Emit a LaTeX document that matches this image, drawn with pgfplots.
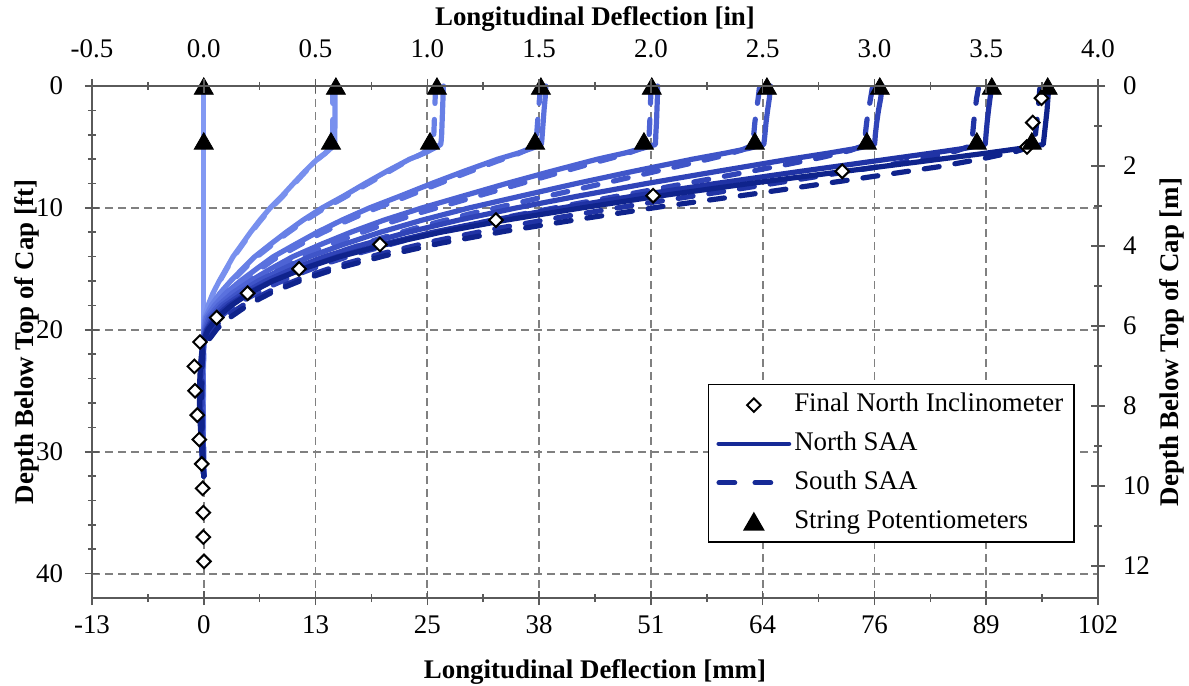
\documentclass[border=0pt]{standalone}
\usepackage{fontspec}
\setmainfont{Liberation Serif}
\usepackage{pgfplots}
\usepackage{pgfplotstable}
\pgfplotsset{compat=1.18}

% load-step colours, light to dark
\definecolor{s0}{RGB}{130,153,243}
\definecolor{s1}{RGB}{120,144,238}
\definecolor{s2}{RGB}{104,128,230}
\definecolor{s3}{RGB}{90,113,222}
\definecolor{s4}{RGB}{77,99,212}
\definecolor{s5}{RGB}{63,85,200}
\definecolor{s6}{RGB}{48,68,184}
\definecolor{s7}{RGB}{32,51,165}
\definecolor{s8}{RGB}{15,35,140}
\definecolor{legnavy}{RGB}{22,42,150}
\definecolor{gridgray}{RGB}{128,128,128}
\definecolor{framegray}{RGB}{90,90,90}

% North SAA profiles: depth [ft], deflection [in] per load step
\pgfplotstableread{
z    n0  n1    n2     n3     n4     n5     n6     n7     n8
0    0   0.587 1.072  1.530  2.030  2.535  3.035  3.525  3.780
1    0   0.587 1.070  1.527  2.029  2.530  3.028  3.517  3.776
2    0   0.587 1.068  1.522  2.027  2.522  3.018  3.510  3.772
3    0   0.587 1.066  1.518  2.025  2.515  3.010  3.504  3.766
4    0   0.586 1.064  1.514  2.022  2.510  3.004  3.499  3.760
4.5  0   0.586 1.062  1.512  2.021  2.507  3.002  3.497  3.757
4.8  0   0.585 1.060  1.510  2.020  2.505  3.000  3.495  3.755
5.1  0   0.569 1.031  1.469  1.965  2.442  2.925  3.408  3.661
5.5  0   0.545 0.988  1.407  1.883  2.335  2.796  3.257  3.503
6    0   0.508 0.921  1.315  1.761  2.187  2.622  3.062  3.293
7    0   0.452 0.818  1.163  1.553  1.921  2.298  2.670  2.865
8    0   0.401 0.721  1.019  1.353  1.666  1.980  2.289  2.441
9    0   0.351 0.628  0.882  1.164  1.425  1.683  1.933  2.046
10   0   0.297 0.529  0.741  0.976  1.187  1.398  1.601  1.690
11   0   0.251 0.444  0.618  0.806  0.977  1.140  1.293  1.352
12   0   0.209 0.368  0.507  0.657  0.789  0.912  1.024  1.059
13   0   0.170 0.297  0.408  0.523  0.624  0.714  0.797  0.815
14   0   0.131 0.228  0.311  0.398  0.473  0.540  0.598  0.608
15   0   0.100 0.173  0.236  0.299  0.353  0.399  0.440  0.443
16   0   0.069 0.120  0.163  0.208  0.243  0.276  0.304  0.308
17   0   0.041 0.072  0.098  0.127  0.153  0.177  0.196  0.203
18   0   0.019 0.034  0.048  0.065  0.080  0.096  0.112  0.124
19   0   0.003 0.007  0.012  0.020  0.028  0.039  0.049  0.060
20   0   0.000 0.001  0.002  0.004  0.008  0.012  0.014  0.019
21   0   0.000 -0.001 -0.001 -0.002 -0.002 -0.002 -0.003 -0.003
22   0   -0.001 -0.003 -0.004 -0.005 -0.006 -0.008 -0.009 -0.010
23   0   -0.002 -0.004 -0.006 -0.008 -0.009 -0.011 -0.013 -0.015
25   0   -0.003 -0.005 -0.008 -0.010 -0.013 -0.015 -0.018 -0.020
27   0   -0.002 -0.005 -0.007 -0.009 -0.011 -0.014 -0.016 -0.018
29   0   -0.002 -0.003 -0.005 -0.006 -0.008 -0.009 -0.011 -0.012
31   0   -0.001 -0.001 -0.002 -0.003 -0.003 -0.004 -0.004 -0.005
32   0   0     0      0      0      0      0      0      0
}\north

% South SAA profiles: depth / deflection pairs per load step
\pgfplotstableread{
z1    s1     z2    s2     z3    s3     z4    s4     z5    s5     z6    s6     z7    s7     z8    s8
0.2   0.577  0.2   1.037  0.2   1.505  0.2   2.000  0.2   2.485  0.2   2.990  0.2   3.465  0.2   3.740
1     0.577  1     1.035  1     1.502  1     1.999  1     2.480  1     2.983  1     3.457  1     3.736
2     0.577  2     1.033  2     1.497  2     1.997  2     2.472  2     2.973  2     3.450  2     3.732
3     0.577  3     1.031  3     1.493  3     1.995  3     2.465  3     2.965  3     3.444  3     3.726
4     0.576  4     1.029  4     1.489  4     1.992  4     2.460  4     2.959  4     3.439  4     3.720
4.5   0.576  4.5   1.027  4.5   1.487  4.5   1.991  4.5   2.457  4.5   2.957  4.5   3.437  4.5   3.717
4.81  0.575  4.82  1.025  4.83  1.485  4.84  1.990  4.85  2.455  4.86  2.955  4.88  3.435  4.89  3.715
5.13  0.562  5.15  1.006  5.18  1.451  5.21  1.944  5.25  2.407  5.28  2.893  5.33  3.366  5.37  3.633
5.55  0.541  5.58  0.974  5.63  1.397  5.68  1.871  5.75  2.315  5.80  2.778  5.88  3.233  5.95  3.487
6.07  0.506  6.11  0.914  6.18  1.310  6.25  1.755  6.35  2.177  6.42  2.613  6.53  3.050  6.63  3.285
7.09  0.452  7.13  0.818  7.21  1.163  7.30  1.553  7.43  1.921  7.51  2.298  7.64  2.670  7.77  2.865
8.1   0.401  8.15  0.721  8.25  1.019  8.35  1.353  8.5   1.666  8.6   1.980  8.75  2.289  8.9   2.441
9.1   0.351  9.15  0.628  9.25  0.882  9.35  1.164  9.5   1.425  9.6   1.683  9.75  1.933  9.9   2.046
10.1  0.297  10.15 0.529  10.25 0.741  10.35 0.976  10.5  1.187  10.6  1.398  10.75 1.601  10.9  1.690
11.1  0.251  11.15 0.444  11.25 0.618  11.35 0.806  11.5  0.977  11.6  1.140  11.75 1.293  11.9  1.352
12.1  0.209  12.15 0.368  12.25 0.507  12.35 0.657  12.5  0.789  12.6  0.912  12.75 1.024  12.9  1.059
13.1  0.170  13.15 0.297  13.25 0.408  13.35 0.523  13.5  0.624  13.6  0.714  13.75 0.797  13.9  0.815
14.1  0.131  14.15 0.228  14.25 0.311  14.35 0.398  14.5  0.473  14.6  0.540  14.75 0.598  14.9  0.608
15.1  0.100  15.15 0.173  15.25 0.236  15.35 0.299  15.5  0.353  15.6  0.399  15.75 0.440  15.9  0.443
16.1  0.069  16.15 0.120  16.25 0.163  16.35 0.208  16.5  0.243  16.6  0.276  16.75 0.304  16.9  0.308
17.1  0.041  17.15 0.072  17.25 0.098  17.35 0.127  17.5  0.153  17.6  0.177  17.75 0.196  17.9  0.203
18.1  0.019  18.15 0.034  18.25 0.048  18.35 0.065  18.5  0.080  18.6  0.096  18.75 0.112  18.9  0.124
19.1  0.003  19.15 0.007  19.25 0.012  19.35 0.020  19.5  0.028  19.6  0.039  19.75 0.049  19.9  0.060
20.1  0.000  20.15 0.001  20.25 0.002  20.35 0.004  20.5  0.008  20.6  0.012  20.75 0.014  20.9  0.019
21.2  0.000  21.2  0.000  21.2  -0.001 21.2  -0.001 21.2  -0.001 21.2  -0.001 21.2  -0.001 21.2  -0.002
22    0.000  22    -0.001 22    -0.002 22    -0.003 22    -0.003 22    -0.004 22    -0.005 22    -0.005
23    -0.001 23    -0.002 23    -0.003 23    -0.004 23    -0.005 23    -0.006 23    -0.007 23    -0.008
25    -0.001 25    -0.003 25    -0.004 25    -0.005 25    -0.006 25    -0.008 25    -0.009 25    -0.010
27    -0.001 27    -0.002 27    -0.003 27    -0.005 27    -0.006 27    -0.007 27    -0.008 27    -0.009
29    -0.001 29    -0.002 29    -0.002 29    -0.003 29    -0.004 29    -0.005 29    -0.006 29    -0.006
31    0.000  31    -0.001 31    -0.001 31    -0.001 31    -0.002 31    -0.002 31    -0.002 31    -0.003
32    0.000  32    0.000  32    0.000  32    0.000  32    0.000  32    0.000  32    0.000  32    0.000
}\south

% final north inclinometer reading
\pgfplotstableread{
x       z
3.747   1
3.708   3
3.682   5
2.856   7
2.010   9
1.307   11
0.788   13
0.426   15
0.196   17
0.058   19
-0.017  21
-0.042  23
-0.039  25
-0.029  27
-0.020  29
-0.009  31
-0.005  33
-0.002  35
-0.002  37
0.001   39
}\incl

% string potentiometers at the cap
\pgfplotstableread{
x      z
0.000  0
0.591  0
1.043  0
1.508  0
2.004  0
2.519  0
3.024  0
3.525  0
3.775  0
0.000  4.5
0.569  4.5
1.012  4.5
1.482  4.5
1.969  4.5
2.465  4.5
2.966  4.5
3.458  4.5
3.704  4.5
}\pots

\tikzset{titlefont/.style={font=\bfseries\fontsize{13.5}{16}\selectfont}}

\pgfplotsset{
  chartbase/.style={
    width=503bp, height=256bp, scale only axis, clip=false,
    xmin=-0.5, xmax=4, y dir=reverse,
    xtick={-0.5,0,0.5,1,1.5,2,2.5,3,3.5,4},
    minor x tick num=1,
    axis line style={framegray, line width=1.2bp},
    tick style={framegray, line width=0.8bp},
    tick align=center, major tick length=7bp, minor tick length=4bp,
    tick label style={font=\fontsize{13.5}{16}\selectfont, text=black},
  },
  saa/.style={line width=2.6bp, line cap=round, line join=round},
}

\begin{document}
\begin{tikzpicture}
\useasboundingbox (-46bp,-44bp) rectangle (548.5bp,299bp);

\begin{axis}[chartbase,
  ymin=0, ymax=42,
  ytick={0,10,20,30,40}, minor y tick num=4,
  xticklabels={-13,0,13,25,38,51,64,76,89,102},
  yticklabels={0,10,20,30,40},
  xtick pos=left, ytick pos=left, xticklabel pos=left, yticklabel pos=left,
  xticklabel shift=2bp, yticklabel shift=7.5bp,
  xmajorgrids, ymajorgrids,
  major grid style={gridgray, dash pattern=on 4bp off 2.5bp, line width=0.9bp},
  every axis x label/.style={at={(axis description cs:0.5,-0.145)}, anchor=center, titlefont},
  every axis y label/.style={at={(axis description cs:-0.0646,0.5)}, anchor=center, rotate=90, titlefont},
  xlabel={Longitudinal Deflection [mm]},
  ylabel={Depth Below Top of Cap [ft]},
  legend image code/.code={\draw[mark repeat=2,mark phase=2,#1] plot coordinates {(0bp,0bp) (17.5bp,0bp) (35bp,0bp)};},
  legend cell align=left,
  legend style={at={(0.612,0.4183)}, anchor=north west, draw=black, line width=0.8bp, fill=white,
    font=\fontsize{13.5}{16}\selectfont, inner xsep=4bp, inner ysep=2.5bp, row sep=3.9bp,
    nodes={inner sep=1.5bp, text height=9.5bp, text depth=3bp}},
]
% load step 0: no deflection
\addplot[forget plot, s0, saa] table[x=n0, y=z]{\north};
% load steps 1-8: north solid, south dashed
\pgfplotsinvokeforeach{1,...,8}{
  \addplot[forget plot, s#1, saa] table[x=n#1, y=z]{\north};
  \addplot[forget plot, s#1, saa, dash pattern=on 7.5bp off 8bp] table[x=s#1, y=z#1]{\south};
}
\addplot[forget plot, only marks, mark=square*, mark size=2.4bp,
  mark options={rotate=45, fill=white, draw=black, line width=1bp}] table[x=x, y=z]{\incl};
\addplot[forget plot, only marks, mark=triangle*, mark size=5.5bp,
  mark options={fill=black, draw=black, yshift=-1.4bp}] table[x=x, y=z]{\pots};

\addlegendimage{only marks, mark=square*, mark size=2.4bp, mark options={rotate=45, fill=white, draw=black, line width=1bp, solid}}
\addlegendentry{Final North Inclinometer}
\addlegendimage{legnavy, line width=2.4bp, line cap=round}
\addlegendentry{North SAA}
\addlegendimage{legnavy, line width=2.4bp, line cap=round, dash pattern=on 8bp off 10bp}
\addlegendentry{South SAA}
\addlegendimage{only marks, mark=triangle*, mark size=5.5bp, mark options={fill=black, draw=black, yshift=-1.4bp}}
\addlegendentry{String Potentiometers}
\end{axis}

\begin{axis}[chartbase,
  ymin=0, ymax=12.8016,
  ytick={0,2,4,6,8,10,12}, minor y tick num=1,
  xticklabels={-0.5,0.0,0.5,1.0,1.5,2.0,2.5,3.0,3.5,4.0},
  yticklabels={0,2,4,6,8,10,12},
  xtick pos=right, ytick pos=right, xticklabel pos=right, yticklabel pos=right,
  xticklabel shift=7bp, yticklabel shift=5.5bp,
  every axis x label/.style={at={(axis description cs:0.5,1.131)}, anchor=center, titlefont},
  every axis y label/.style={at={(axis description cs:1.0736,0.5)}, anchor=center, rotate=90, titlefont},
  xlabel={Longitudinal Deflection [in]},
  ylabel={Depth Below Top of Cap [m]},
]
\addplot[draw=none, forget plot] coordinates {(0,0)};
\end{axis}
\end{tikzpicture}
\end{document}
